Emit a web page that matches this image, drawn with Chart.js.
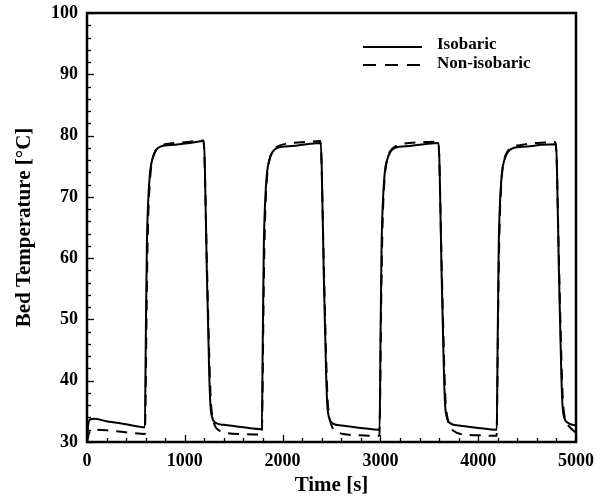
<!DOCTYPE html>
<html>
<head>
<meta charset="utf-8">
<script src="https://cdn.jsdelivr.net/npm/chart.js@4"></script>
<style>
  body { margin: 0; background: #fff; }
</style>
</head>
<body>
<canvas id="myChart" width="605" height="501"></canvas>
<script>
// BED TEMPERATURE - ISOBARIC / NON-ISOBARIC

const xTicks = [0, 1000, 2000, 3000, 4000, 5000];
const yTicks = [30, 40, 50, 60, 70, 80, 90, 100];

const isobaricTime = [
    0, 12, 35, 70, 200, 400, 592,
    600, 612, 625, 645, 670, 700, 750, 900, 1050, 1195,
    1205, 1225, 1250, 1262, 1280, 1320, 1400, 1600, 1788,
    1796, 1808, 1821, 1841, 1866, 1896, 1946, 2100, 2250, 2390,
    2400, 2420, 2445, 2457, 2475, 2515, 2600, 2800, 2992,
    3000, 3012, 3025, 3045, 3070, 3100, 3150, 3300, 3450, 3595,
    3605, 3625, 3650, 3662, 3680, 3720, 3800, 4000, 4190,
    4198, 4210, 4223, 4243, 4268, 4298, 4348, 4500, 4650, 4795,
    4805, 4825, 4850, 4862, 4880, 4920, 5000
];
const isobaricTemp = [
    30.4, 32.8, 33.7, 33.8, 33.4, 32.9, 32.4,
    45, 62, 69, 74, 76.3, 77.5, 78.2, 78.5, 78.8, 79.1,
    75, 58, 41, 36, 34.0, 33.1, 32.8, 32.4, 32.1,
    45, 62, 69, 74, 76.1, 77.3, 78.0, 78.3, 78.6, 78.8,
    75, 58, 41, 36, 34.0, 33.0, 32.7, 32.3, 32.0,
    45, 62, 69, 74, 76.1, 77.3, 78.0, 78.3, 78.6, 78.8,
    75, 58, 41, 36, 34.0, 33.0, 32.7, 32.3, 32.0,
    45, 62, 69, 74, 76.0, 77.2, 77.9, 78.2, 78.5, 78.6,
    75, 58, 41, 36, 34.0, 33.1, 32.7
];

const nonIsoTime = [
    0, 20, 60, 200, 450, 592,
    600, 612, 625, 645, 670, 700, 750, 850, 1000, 1190,
    1200, 1225, 1250, 1265, 1285, 1310, 1350, 1420, 1600, 1787,
    1795, 1807, 1820, 1840, 1865, 1895, 1945, 2050, 2200, 2385,
    2395, 2420, 2445, 2460, 2480, 2505, 2545, 2620, 2800, 2990,
    2998, 3010, 3023, 3043, 3068, 3098, 3148, 3250, 3400, 3590,
    3600, 3625, 3650, 3665, 3685, 3710, 3750, 3820, 4000, 4188,
    4195, 4207, 4220, 4240, 4265, 4295, 4345, 4450, 4600, 4790,
    4800, 4825, 4850, 4865, 4885, 4910, 4950, 5000
];
const nonIsoTemp = [
    30.0, 31.4, 32.0, 31.9, 31.5, 31.3,
    38, 55, 66, 73, 76, 77.5, 78.3, 78.7, 78.9, 79.2,
    77, 60, 44, 37, 34, 32.6, 31.9, 31.5, 31.3, 31.2,
    38, 55, 66, 73, 76, 77.4, 78.2, 78.7, 78.9, 79.1,
    77, 60, 44, 37, 34, 32.5, 31.8, 31.3, 31.1, 31.0,
    38, 55, 66, 73, 76, 77.4, 78.2, 78.7, 78.9, 79.0,
    77, 60, 44, 37, 34, 32.5, 31.8, 31.3, 31.1, 31.0,
    38, 55, 66, 73, 76, 77.3, 78.1, 78.5, 78.8, 78.9,
    77, 60, 44, 37, 34, 33.0, 32.2, 31.5
];

const seriesNames = ['Isobaric', 'Non-isobaric'];

const serif = '"Liberation Serif", "DejaVu Serif", serif';

// cadre, petites graduations et legende dans la zone du graphe
const framePlugin = {
    id: 'frame',
    afterDraw(chart) {
        const ctx = chart.ctx;
        const a = chart.chartArea;
        const xs = chart.scales.x;
        const ys = chart.scales.y;
        ctx.save();
        ctx.strokeStyle = '#000';
        ctx.lineWidth = 1.3;
        for (let v = 0; v <= 5000; v += 200) {
            const px = Math.round(xs.getPixelForValue(v)) + 0.5;
            const len = v % 1000 === 0 ? 7 : 4;
            ctx.beginPath();
            ctx.moveTo(px, a.bottom);
            ctx.lineTo(px, a.bottom - len);
            ctx.stroke();
        }
        for (let v = 30; v <= 100; v += 2) {
            const py = Math.round(ys.getPixelForValue(v)) + 0.5;
            const len = v % 10 === 0 ? 7 : 4;
            ctx.beginPath();
            ctx.moveTo(a.left, py);
            ctx.lineTo(a.left + len, py);
            ctx.stroke();
        }
        ctx.lineWidth = 2.5;
        ctx.strokeRect(a.left, a.top, a.right - a.left, a.bottom - a.top);

        // legende
        ctx.lineWidth = 2;
        const lx0 = a.right - 213;
        const lx1 = a.right - 154;
        ctx.beginPath();
        ctx.moveTo(lx0, a.top + 34);
        ctx.lineTo(lx1, a.top + 34);
        ctx.stroke();
        ctx.setLineDash([13, 9]);
        ctx.beginPath();
        ctx.moveTo(lx0, a.top + 52);
        ctx.lineTo(lx1, a.top + 52);
        ctx.stroke();
        ctx.setLineDash([]);
        ctx.fillStyle = '#000';
        ctx.font = 'bold 17px ' + serif;
        ctx.textBaseline = 'middle';
        ctx.fillText(seriesNames[0], a.right - 139, a.top + 32);
        ctx.fillText(seriesNames[1], a.right - 139, a.top + 51);
        ctx.restore();
    }
};

const data = {
    datasets: [{
        label: seriesNames[0],
        data: isobaricTime.map((t, i) => ({x: t, y: isobaricTemp[i]})),
        borderColor: '#000',
        borderWidth: 2,
        pointRadius: 0,
        cubicInterpolationMode: 'monotone'
    }, {
        label: seriesNames[1],
        data: nonIsoTime.map((t, i) => ({x: t, y: nonIsoTemp[i]})),
        borderColor: '#000',
        borderWidth: 2,
        borderDash: [11, 8],
        pointRadius: 0,
        cubicInterpolationMode: 'monotone'
    }]
};

const config = {
    type: 'line',
    data: data,
    options: {
        responsive: false,
        animation: false,
        layout: {
            padding: {top: 13, right: 29, left: 0, bottom: 0}
        },
        plugins: {
            legend: {display: false},
            tooltip: {enabled: false}
        },
        scales: {
            x: {
                type: 'linear',
                min: 0,
                max: 5000,
                grid: {display: false, drawTicks: false},
                border: {display: false},
                afterBuildTicks: (scale) => { scale.ticks = xTicks.map(v => ({value: v})); },
                afterFit: (scale) => {
                    scale.height = 59;
                    scale.paddingLeft = 0;
                    scale.paddingRight = 0;
                },
                ticks: {
                    color: '#000',
                    padding: 9,
                    maxRotation: 0,
                    callback: (v) => String(v),
                    font: {family: serif, size: 18, weight: 'bold'}
                },
                title: {
                    display: true,
                    text: 'Time [s]',
                    color: '#000',
                    padding: {top: 0, bottom: 3},
                    font: {family: serif, size: 21, weight: 'bold'}
                }
            },
            y: {
                type: 'linear',
                min: 30,
                max: 100,
                grid: {display: false, drawTicks: false},
                border: {display: false},
                afterBuildTicks: (scale) => { scale.ticks = yTicks.map(v => ({value: v})); },
                afterFit: (scale) => {
                    scale.width = 87;
                    scale.paddingTop = 0;
                    scale.paddingBottom = 0;
                },
                ticks: {
                    color: '#000',
                    padding: 9,
                    callback: (v) => String(v),
                    font: {family: serif, size: 18, weight: 'bold'}
                },
                title: {
                    display: true,
                    text: 'Bed Temperature [°C]',
                    color: '#000',
                    padding: {top: 12, bottom: 0},
                    font: {family: serif, size: 21, weight: 'bold'}
                }
            }
        }
    },
    plugins: [framePlugin]
};

const myChart = new Chart(
    document.getElementById('myChart'),
    config
);
</script>
</body>
</html>
